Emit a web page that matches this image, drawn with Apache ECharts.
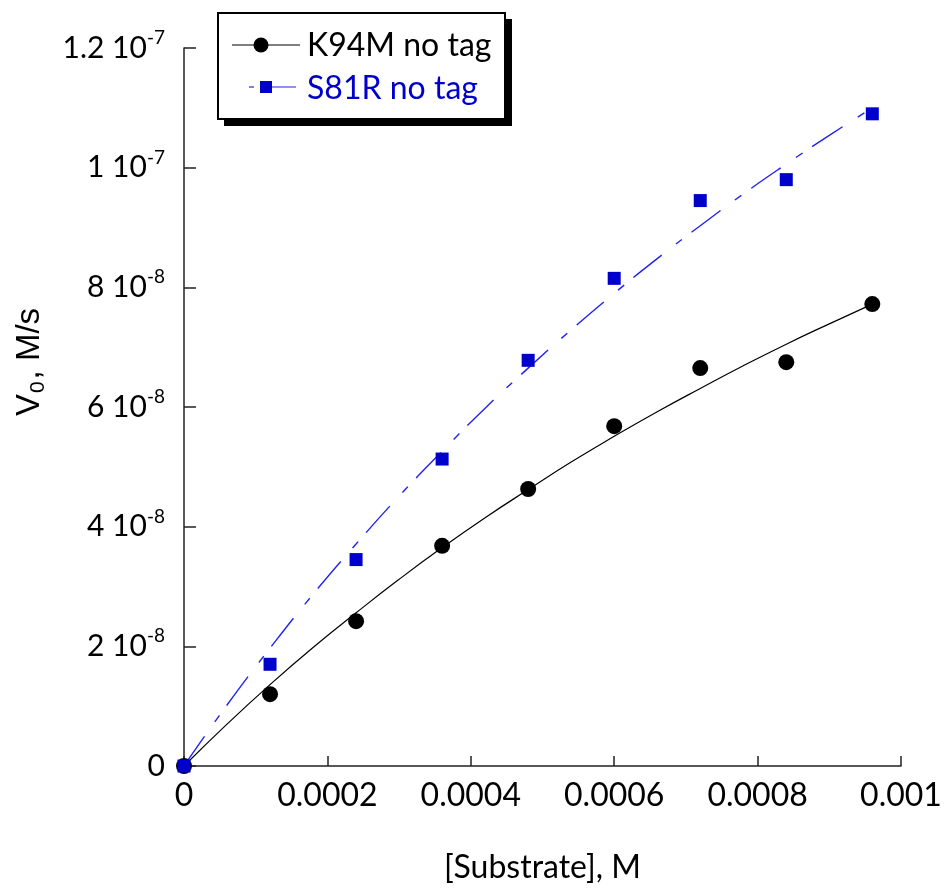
<!DOCTYPE html>
<html>
<head>
<meta charset="utf-8">
<script src="https://cdn.jsdelivr.net/npm/echarts@6/dist/echarts.min.js"></script>
<style>
  html, body { margin: 0; padding: 0; background: #fff; }
  #chart { width: 944px; height: 888px; }
</style>
</head>
<body>
<div id="chart"></div>
<script>
// Substrate concentrations (M) of the measured points
const substrate = [0, 0.00012, 0.00024, 0.00036, 0.00048, 0.0006, 0.00072, 0.00084, 0.00096];
// Initial rates, in units of 1e-9 M/s
const k94mRate = [0, 12.0, 24.2, 36.8, 46.3, 56.8, 66.5, 67.5, 77.2];
const s81rRate = [0, 17.0, 34.5, 51.3, 67.8, 81.5, 94.5, 98.0, 109.0];

// Fitted curves (Michaelis-Menten), sampled along the substrate axis
const fitSubstrate = [0, 0.00006, 0.00012, 0.00018, 0.00024, 0.0003, 0.00036, 0.00042, 0.00048,
  0.00054, 0.0006, 0.00066, 0.00072, 0.00078, 0.00084, 0.0009, 0.00096];
const k94mFit = [0, 7.0, 13.6, 19.8, 25.6, 31.2, 36.5, 41.5, 46.2, 50.8, 55.1, 59.2, 63.1, 66.9, 70.5, 73.9, 77.2];
const s81rFit = [0, 10.2, 19.7, 28.7, 37.1, 45.1, 52.6, 59.8, 66.5, 72.9, 79.0, 84.8, 90.3, 95.6, 100.6, 105.4, 110.0];

const seriesNames = ['K94M no tag', 'S81R no tag'];
const xTickMax = 0.001;
const yTickMax = 120; // 1.2e-7 M/s

const BLUE = '#0000CC';
const FIT_BLUE = '#2222EE';
const FONT = 'Lato, "Open Sans", sans-serif';
const TITLE_FONT = '"Liberation Sans", Arial, sans-serif';

const pairs = (xs, ys) => xs.map((x, i) => [x, ys[i]]);

// "2 10^-8" style labels for values stored in units of 1e-9
function yLabel(v) {
  if (v === 0) return '{b|0}';
  const p = Math.floor(Math.log10(v));
  const mant = parseFloat((v / Math.pow(10, p)).toPrecision(3));
  return '{b|' + mant + ' 10}{sup|' + (p - 9) + '}';
}

const chart = echarts.init(document.getElementById('chart'), null, { renderer: 'canvas' });

chart.setOption({
  animation: false,
  backgroundColor: '#fff',
  grid: { left: 184, right: 43, top: 48, bottom: 122, containLabel: false, outerBoundsMode: 'none' },
  xAxis: {
    type: 'value', min: 0, max: xTickMax, interval: 0.0002,
    splitLine: { show: false },
    axisLine: { lineStyle: { color: '#222', width: 1.5 } },
    axisTick: { inside: true, length: 10, lineStyle: { color: '#222', width: 1.5 } },
    axisLabel: {
      margin: 14, fontSize: 32, color: '#000', fontFamily: FONT,
      formatter: v => (v === 0 ? '0' : String(parseFloat(v.toPrecision(3))))
    },
    name: '[Substrate], M', nameLocation: 'middle', nameGap: 86,
    nameTextStyle: { fontSize: 32, color: '#000', fontFamily: FONT }
  },
  yAxis: {
    type: 'value', min: 0, max: yTickMax, interval: 20,
    splitLine: { show: false },
    axisLine: { lineStyle: { color: '#222', width: 1.5 } },
    axisTick: { inside: true, length: 12, lineStyle: { color: '#222', width: 1.5 } },
    axisLabel: {
      margin: 19, color: '#000', fontFamily: FONT,
      formatter: yLabel,
      rich: {
        b: { fontSize: 30, fontFamily: FONT, color: '#000' },
        sup: { fontSize: 19, fontFamily: FONT, color: '#000', padding: [0, 0, 20, 0] }
      }
    }
  },
  series: [
    {
      name: seriesNames[0] + ' fit', type: 'line', data: pairs(fitSubstrate, k94mFit),
      showSymbol: false, smooth: true, lineStyle: { color: '#000', width: 1.2 }, z: 2
    },
    {
      name: seriesNames[1] + ' fit', type: 'line', data: pairs(fitSubstrate, s81rFit),
      showSymbol: false, smooth: true,
      lineStyle: { color: FIT_BLUE, width: 1.4, type: [36, 18, 8, 12] }, z: 2
    },
    {
      name: seriesNames[0], type: 'scatter', data: pairs(substrate, k94mRate),
      symbol: 'circle', symbolSize: 16, itemStyle: { color: '#000', opacity: 1 }, z: 3
    },
    {
      name: seriesNames[1], type: 'scatter', data: pairs(substrate, s81rRate),
      symbol: 'rect', symbolSize: 13, itemStyle: { color: BLUE, opacity: 1 }, z: 4
    }
  ],
  graphic: [
    // Y axis title with subscript
    {
      type: 'text', x: 30, y: 362, rotation: Math.PI / 2,
      style: {
        text: '{v|V}{s|0}{v|, M/s}',
        align: 'center', verticalAlign: 'middle',
        rich: {
          v: { fontSize: 33, fontFamily: TITLE_FONT, fill: '#000' },
          s: { fontSize: 21, fontFamily: TITLE_FONT, fill: '#000', padding: [17, 2, 0, 1] }
        }
      }
    },
    // Legend box with drop shadow
    { type: 'rect', shape: { x: 224, y: 19, width: 288, height: 107 }, style: { fill: '#000' }, z: 10 },
    { type: 'rect', shape: { x: 218, y: 13, width: 287, height: 106 }, style: { fill: '#fff', stroke: '#000', lineWidth: 2 }, z: 11 },
    { type: 'line', shape: { x1: 232, y1: 45, x2: 300, y2: 45 }, style: { stroke: '#000', lineWidth: 1.2 }, z: 12 },
    { type: 'circle', shape: { cx: 261, cy: 45, r: 7.5 }, style: { fill: '#000' }, z: 13 },
    {
      type: 'text', x: 307, y: 46, z: 12,
      style: { text: seriesNames[0], fontSize: 32, fontFamily: FONT, fill: '#000', verticalAlign: 'middle' }
    },
    { type: 'line', shape: { x1: 249, y1: 87, x2: 254, y2: 87 }, style: { stroke: FIT_BLUE, lineWidth: 1.2 }, z: 12 },
    { type: 'line', shape: { x1: 262, y1: 87, x2: 296, y2: 87 }, style: { stroke: FIT_BLUE, lineWidth: 1.2 }, z: 12 },
    { type: 'rect', shape: { x: 260, y: 81, width: 12, height: 12 }, style: { fill: BLUE }, z: 13 },
    {
      type: 'text', x: 307, y: 89, z: 12,
      style: { text: seriesNames[1], fontSize: 32, fontFamily: FONT, fill: BLUE, verticalAlign: 'middle' }
    }
  ]
});
</script>
</body>
</html>
